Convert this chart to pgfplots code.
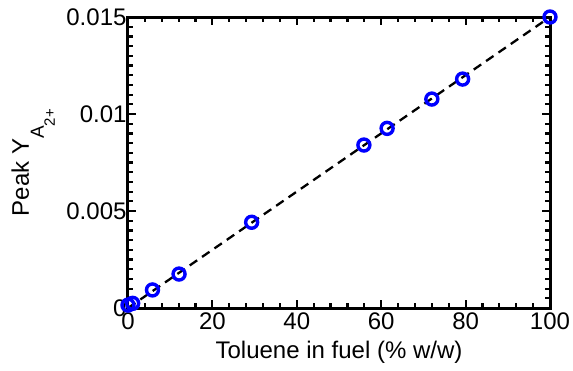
\documentclass[border=0pt]{standalone}
\usepackage{fontspec}
\setmainfont{Liberation Sans}
\usepackage{pgfplots}
\pgfplotsset{compat=1.18}
\begin{document}
\begin{tikzpicture}
\begin{axis}[
  scale only axis, width=422pt, height=291pt,
  xmin=0, xmax=100, ymin=0, ymax=0.015,
  xtick={0,20,40,60,80,100},
  ytick={0,0.005,0.01,0.015}, yticklabels={0,0.005,0.01,0.015},
  scaled y ticks=false,
  minor x tick num=4, minor y tick num=9,
  tick align=inside, major tick length=8pt, minor tick length=5pt,
  axis line style={line width=3pt},
  tick style={line width=2.2pt, black},
  /pgf/number format/assume math mode=true,
  tick label style={font=\fontsize{24}{28}\selectfont},
  xticklabel style={yshift=-1pt},
  yticklabel style={xshift=2pt},
  xlabel={Toluene in fuel (\% w/w)},
  xlabel style={font=\fontsize{24}{28}\selectfont, at={(axis description cs:0.5,-0.172)}, anchor=base, inner sep=0pt},
  ylabel={Peak Y\raisebox{-15pt}{\fontsize{19}{22}\selectfont A\raisebox{-11pt}{\fontsize{15}{17}\selectfont 2+}}},
  ylabel style={font=\fontsize{24}{28}\selectfont, at={(axis description cs:-0.173,0.5)}, anchor=south, inner sep=0pt},
  clip=false,
]
\addplot[black, line width=2.3pt, dash pattern=on 9pt off 6pt] coordinates {(0,0) (100,0.015)};
\addplot[only marks, mark=o, mark size=6pt, color={rgb,255:red,0;green,0;blue,255}, mark options={line width=3.4pt}] coordinates {
(0,0.00015) (1.1,0.00024) (5.8,0.00093) (12.1,0.00175) (29.3,0.00442)
(55.9,0.0084) (61.4,0.00926) (72,0.01077) (79.3,0.0118) (100,0.015)};
\end{axis}
\pgfresetboundingbox
\path[use as bounding box] (-128pt,-62pt) rectangle (445pt,308pt);
\end{tikzpicture}
\end{document}
